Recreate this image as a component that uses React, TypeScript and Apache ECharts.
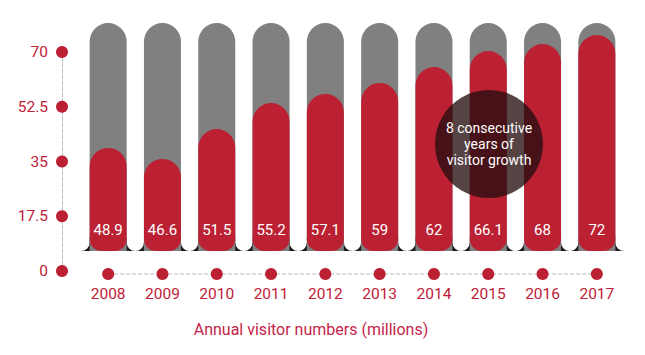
import React, { useEffect, useRef } from "react";
import * as echarts from "echarts";

const years = ["2008", "2009", "2010", "2011", "2012", "2013", "2014", "2015", "2016", "2017"];
// Numbers printed inside the bars (millions of visitors)
const visitorLabels = [48.9, 46.6, 51.5, 55.2, 57.1, 59, 62, 66.1, 68, 72];
// Heights of the red bars as drawn, on the hidden 0-100 scale of the bar track
const barLevels = [45.2, 40.4, 53.5, 64.9, 68.9, 73.7, 80.7, 87.7, 90.8, 94.7];
// Grey track behind each bar (full height)
const trackLevels = [100, 100, 100, 100, 100, 100, 100, 100, 100, 100];
// Left decorative axis ticks
const axisTicks = [0, 17.5, 35, 52.5, 70];
const dotRow = [0.5, 0.5, 0.5, 0.5, 0.5, 0.5, 0.5, 0.5, 0.5, 0.5];

const RED = "#bb2133";
const TEXT_RED = "#bf2037";
const GREY = "#808080";
const FONT = "Roboto";
const BAR_W = 37;

export default function App() {
  const ref = useRef<HTMLDivElement>(null);
  useEffect(() => {
    if (!ref.current) return;
    const chart = echarts.init(ref.current, null, { renderer: "svg" });
    const option: any = {
      animation: false,
      backgroundColor: "#ffffff",
      textStyle: { fontFamily: FONT },
      grid: [
        { left: 81, top: 23, width: 543, height: 228 },
        { left: 62, top: 52, width: 10, height: 219 },
        { left: 81, top: 268, width: 543, height: 12 },
      ],
      xAxis: [
        { gridIndex: 0, type: "category", data: years, show: false },
        { gridIndex: 1, type: "value", min: 0, max: 1, show: false },
        {
          gridIndex: 2,
          type: "category",
          data: years,
          axisLine: { show: false },
          axisTick: { show: false },
          axisLabel: { color: TEXT_RED, fontSize: 15.5, margin: 6, fontFamily: FONT },
        },
      ],
      yAxis: [
        { gridIndex: 0, type: "value", min: 0, max: 100, show: false },
        {
          gridIndex: 1,
          type: "value",
          min: 0,
          max: 70,
          interval: 17.5,
          axisLine: { show: true, lineStyle: { type: "dashed", color: "#bdbdbd", width: 1 } },
          axisTick: { show: false },
          splitLine: { show: false },
          axisLabel: { color: TEXT_RED, fontSize: 15.5, margin: 14, fontFamily: FONT },
        },
        { gridIndex: 2, type: "value", min: 0, max: 1, show: false },
      ],
      series: [
        {
          type: "custom",
          xAxisIndex: 0,
          yAxisIndex: 0,
          z: 1,
          silent: true,
          encode: { x: 0, y: 1 },
          data: years.map((_, i) => [i, 0]),
          renderItem: (params: any, api: any) => {
            const idx = api.value(0);
            const pt = api.coord([idx, 0]);
            const band = api.size([1, 0])[0];
            const gap = band - BAR_W;
            const cx = pt[0];
            const bottom = pt[1];
            const children: any[] = [
              {
                type: "rect",
                shape: { x: cx - band / 2, y: bottom - 14, width: band, height: 14 },
                style: { fill: "#1c1a1a" },
              },
              {
                type: "rect",
                shape: { x: cx - band / 2 - gap / 2, y: bottom - 40, width: gap, height: 40, r: [0, 0, gap / 2, gap / 2] },
                style: { fill: "#ffffff" },
              },
            ];
            if (params.dataIndex === years.length - 1) {
              children.push({
                type: "rect",
                shape: { x: cx + band / 2 - gap / 2, y: bottom - 40, width: gap, height: 40, r: [0, 0, gap / 2, gap / 2] },
                style: { fill: "#ffffff" },
              });
            }
            return { type: "group", children };
          },
        },
        {
          type: "bar",
          xAxisIndex: 0,
          yAxisIndex: 0,
          z: 2,
          barWidth: BAR_W,
          barGap: "-100%",
          data: trackLevels,
          itemStyle: { color: GREY, borderRadius: [BAR_W / 2, BAR_W / 2, 0, 0] },
          silent: true,
        },
        {
          type: "bar",
          xAxisIndex: 0,
          yAxisIndex: 0,
          z: 3,
          barWidth: BAR_W,
          barGap: "-100%",
          data: barLevels,
          itemStyle: { color: RED, borderRadius: [BAR_W / 2, BAR_W / 2, 12, 12] },
          label: {
            show: true,
            position: "insideBottom",
            distance: 14,
            color: "#ffffff",
            fontSize: 15,
            fontFamily: FONT,
            formatter: (p: any) => String(visitorLabels[p.dataIndex]),
          },
        },
        {
          type: "scatter",
          xAxisIndex: 1,
          yAxisIndex: 1,
          symbolSize: 12,
          itemStyle: { color: RED, opacity: 1 },
          data: axisTicks.map((v) => [0, v]),
          clip: false,
          z: 4,
        },
        {
          type: "line",
          xAxisIndex: 2,
          yAxisIndex: 2,
          data: dotRow,
          symbol: "circle",
          symbolSize: 12,
          showSymbol: true,
          itemStyle: { color: RED, opacity: 1 },
          lineStyle: { type: "dashed", color: "#bdbdbd", width: 1 },
          z: 4,
        },
      ],
      graphic: [
        {
          type: "circle",
          z: 10,
          shape: { cx: 489, cy: 144, r: 54 },
          style: { fill: "rgba(38,14,16,0.78)" },
        },
        {
          type: "text",
          z: 11,
          x: 489,
          y: 144,
          style: {
            text: "8 consecutive\nyears of\nvisitor growth",
            fill: "#ffffff",
            font: `14px ${FONT}`,
            align: "center",
            verticalAlign: "middle",
            lineHeight: 16,
          },
        },
        {
          type: "text",
          x: 311,
          y: 329,
          style: {
            text: "Annual visitor numbers (millions)",
            fill: "#c4254a",
            font: `16px ${FONT}`,
            align: "center",
            verticalAlign: "middle",
          },
        },
      ],
    };
    chart.setOption(option);
    return () => chart.dispose();
  }, []);
  return (
    <div
      ref={ref}
      style={{ position: "fixed", left: 0, top: 0, width: 645, height: 355, background: "#fff" }}
    />
  );
}
